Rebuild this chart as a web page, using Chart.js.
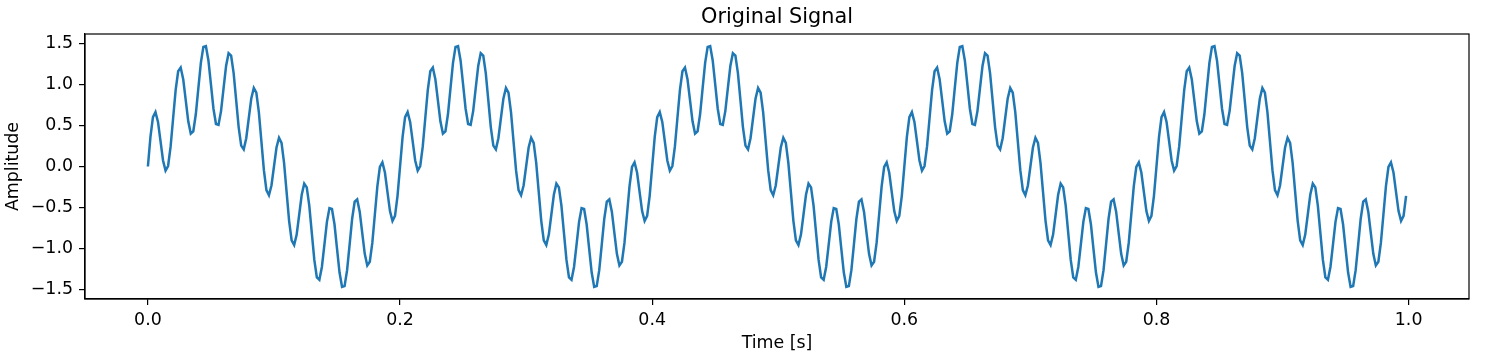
<!DOCTYPE html>
<html>
<head>
<meta charset="utf-8">
<script src="https://cdn.jsdelivr.net/npm/chart.js@4"></script>
<style>
  html, body { margin: 0; padding: 0; background: #ffffff; }
  canvas { display: block; }
</style>
</head>
<body>
<canvas id="c" width="1486" height="356" style="width:1486px;height:356px"></canvas>
<script>
// ---- data ----
const SAMPLE_RATE = 500; // samples per second (t = 0 .. 0.998 s)
const amplitude = [
0, 0.357, 0.601, 0.663, 0.543, 0.309, 0.074, -0.050, 0.006, 0.242,
0.588, 0.931, 1.160, 1.205, 1.064, 0.809, 0.550, 0.401, 0.429, 0.636,
0.951, 1.263, 1.458, 1.468, 1.292, 1.000, 0.704, 0.517, 0.507, 0.675,
0.951, 1.224, 1.380, 1.352, 1.138, 0.809, 0.477, 0.254, 0.209, 0.344,
0.588, 0.830, 0.957, 0.901, 0.662, 0.309, -0.045, -0.288, -0.350, -0.231,
0.000, 0.231, 0.350, 0.288, 0.045, -0.309, -0.662, -0.901, -0.957, -0.830,
-0.588, -0.344, -0.209, -0.254, -0.477, -0.809, -1.138, -1.352, -1.380, -1.224,
-0.951, -0.675, -0.507, -0.517, -0.704, -1.000, -1.292, -1.468, -1.458, -1.263,
-0.951, -0.636, -0.429, -0.401, -0.550, -0.809, -1.064, -1.205, -1.160, -0.931,
-0.588, -0.242, -0.006, 0.050, -0.074, -0.309, -0.543, -0.663, -0.601, -0.357,
0, 0.357, 0.601, 0.663, 0.543, 0.309, 0.074, -0.050, 0.006, 0.242,
0.588, 0.931, 1.160, 1.205, 1.064, 0.809, 0.550, 0.401, 0.429, 0.636,
0.951, 1.263, 1.458, 1.468, 1.292, 1.000, 0.704, 0.517, 0.507, 0.675,
0.951, 1.224, 1.380, 1.352, 1.138, 0.809, 0.477, 0.254, 0.209, 0.344,
0.588, 0.830, 0.957, 0.901, 0.662, 0.309, -0.045, -0.288, -0.350, -0.231,
0.000, 0.231, 0.350, 0.288, 0.045, -0.309, -0.662, -0.901, -0.957, -0.830,
-0.588, -0.344, -0.209, -0.254, -0.477, -0.809, -1.138, -1.352, -1.380, -1.224,
-0.951, -0.675, -0.507, -0.517, -0.704, -1.000, -1.292, -1.468, -1.458, -1.263,
-0.951, -0.636, -0.429, -0.401, -0.550, -0.809, -1.064, -1.205, -1.160, -0.931,
-0.588, -0.242, -0.006, 0.050, -0.074, -0.309, -0.543, -0.663, -0.601, -0.357,
0, 0.357, 0.601, 0.663, 0.543, 0.309, 0.074, -0.050, 0.006, 0.242,
0.588, 0.931, 1.160, 1.205, 1.064, 0.809, 0.550, 0.401, 0.429, 0.636,
0.951, 1.263, 1.458, 1.468, 1.292, 1.000, 0.704, 0.517, 0.507, 0.675,
0.951, 1.224, 1.380, 1.352, 1.138, 0.809, 0.477, 0.254, 0.209, 0.344,
0.588, 0.830, 0.957, 0.901, 0.662, 0.309, -0.045, -0.288, -0.350, -0.231,
0.000, 0.231, 0.350, 0.288, 0.045, -0.309, -0.662, -0.901, -0.957, -0.830,
-0.588, -0.344, -0.209, -0.254, -0.477, -0.809, -1.138, -1.352, -1.380, -1.224,
-0.951, -0.675, -0.507, -0.517, -0.704, -1.000, -1.292, -1.468, -1.458, -1.263,
-0.951, -0.636, -0.429, -0.401, -0.550, -0.809, -1.064, -1.205, -1.160, -0.931,
-0.588, -0.242, -0.006, 0.050, -0.074, -0.309, -0.543, -0.663, -0.601, -0.357,
0, 0.357, 0.601, 0.663, 0.543, 0.309, 0.074, -0.050, 0.006, 0.242,
0.588, 0.931, 1.160, 1.205, 1.064, 0.809, 0.550, 0.401, 0.429, 0.636,
0.951, 1.263, 1.458, 1.468, 1.292, 1.000, 0.704, 0.517, 0.507, 0.675,
0.951, 1.224, 1.380, 1.352, 1.138, 0.809, 0.477, 0.254, 0.209, 0.344,
0.588, 0.830, 0.957, 0.901, 0.662, 0.309, -0.045, -0.288, -0.350, -0.231,
0.000, 0.231, 0.350, 0.288, 0.045, -0.309, -0.662, -0.901, -0.957, -0.830,
-0.588, -0.344, -0.209, -0.254, -0.477, -0.809, -1.138, -1.352, -1.380, -1.224,
-0.951, -0.675, -0.507, -0.517, -0.704, -1.000, -1.292, -1.468, -1.458, -1.263,
-0.951, -0.636, -0.429, -0.401, -0.550, -0.809, -1.064, -1.205, -1.160, -0.931,
-0.588, -0.242, -0.006, 0.050, -0.074, -0.309, -0.543, -0.663, -0.601, -0.357,
0, 0.357, 0.601, 0.663, 0.543, 0.309, 0.074, -0.050, 0.006, 0.242,
0.588, 0.931, 1.160, 1.205, 1.064, 0.809, 0.550, 0.401, 0.429, 0.636,
0.951, 1.263, 1.458, 1.468, 1.292, 1.000, 0.704, 0.517, 0.507, 0.675,
0.951, 1.224, 1.380, 1.352, 1.138, 0.809, 0.477, 0.254, 0.209, 0.344,
0.588, 0.830, 0.957, 0.901, 0.662, 0.309, -0.045, -0.288, -0.350, -0.231,
0.000, 0.231, 0.350, 0.288, 0.045, -0.309, -0.662, -0.901, -0.957, -0.830,
-0.588, -0.344, -0.209, -0.254, -0.477, -0.809, -1.138, -1.352, -1.380, -1.224,
-0.951, -0.675, -0.507, -0.517, -0.704, -1.000, -1.292, -1.468, -1.458, -1.263,
-0.951, -0.636, -0.429, -0.401, -0.550, -0.809, -1.064, -1.205, -1.160, -0.931,
-0.588, -0.242, -0.006, 0.050, -0.074, -0.309, -0.543, -0.663, -0.601, -0.357
];
const xTicks = [0.0, 0.2, 0.4, 0.6, 0.8, 1.0];
const yTicks = [-1.5, -1.0, -0.5, 0.0, 0.5, 1.0, 1.5];
const titleText = 'Original Signal';
const xLabel = 'Time [s]';
const yLabel = 'Amplitude';

// ---- build ----
const points = amplitude.map((v, i) => ({ x: i / SAMPLE_RATE, y: v }));
const FONT = 'DejaVu Sans';
const TICK_SIZE = 17.4;
const TITLE_SIZE = 20.8;
const fmt = v => (v < 0 ? '\u2212' : '') + Math.abs(v).toFixed(1);

const framePlugin = {
  id: 'frame',
  afterDraw(chart) {
    const { ctx, chartArea: a } = chart;
    ctx.save();
    ctx.strokeStyle = '#000';
    ctx.lineWidth = 1.2;
    ctx.strokeRect(a.left, a.top, a.right - a.left, a.bottom - a.top);
    // axes title, centred over the plotting area
    ctx.fillStyle = '#000';
    ctx.font = TITLE_SIZE + 'px "' + FONT + '"';
    ctx.textAlign = 'center';
    ctx.textBaseline = 'alphabetic';
    ctx.fillText(titleText, (a.left + a.right) / 2, a.top - 10.6);
    ctx.restore();
  }
};

new Chart(document.getElementById('c'), {
  type: 'line',
  data: {
    datasets: [{
      data: points,
      borderColor: '#1f77b4',
      borderWidth: 2.5,
      pointRadius: 0,
      tension: 0,
      fill: false
    }]
  },
  options: {
    responsive: false,
    animation: false,
    devicePixelRatio: 1,
    layout: { padding: { left: 0, right: 17, top: 34, bottom: 0 } },
    plugins: {
      legend: { display: false },
      tooltip: { enabled: false },
      title: { display: false }
    },
    scales: {
      x: {
        type: 'linear',
        min: -0.0499,
        max: 1.0479,
        afterBuildTicks: s => { s.ticks = xTicks.map(v => ({ value: v })); },
        afterFit: s => { s.height = 57; },
        grid: { drawOnChartArea: false, drawTicks: true, tickLength: 6, color: '#000', lineWidth: 1.2 },
        border: { display: true, color: '#000', width: 1.2 },
        ticks: {
          color: '#000', padding: 5, maxRotation: 0, autoSkip: false,
          font: { family: FONT, size: TICK_SIZE },
          callback: v => fmt(v)
        },
        title: {
          display: true, text: xLabel, color: '#000',
          font: { family: FONT, size: TICK_SIZE },
          padding: { top: 0, bottom: 2 }
        }
      },
      y: {
        type: 'linear',
        min: -1.6144,
        max: 1.6144,
        afterBuildTicks: s => { s.ticks = yTicks.map(v => ({ value: v })); },
        afterFit: s => { s.width = 85; },
        grid: { drawOnChartArea: false, drawTicks: true, tickLength: 6, color: '#000', lineWidth: 1.2 },
        border: { display: true, color: '#000', width: 1.2 },
        ticks: {
          color: '#000', padding: 6, autoSkip: false,
          font: { family: FONT, size: TICK_SIZE },
          callback: v => fmt(v)
        },
        title: {
          display: true, text: yLabel, color: '#000',
          font: { family: FONT, size: TICK_SIZE },
          padding: { top: 3, bottom: 0 }
        }
      }
    }
  },
  plugins: [framePlugin]
});
</script>
</body>
</html>
